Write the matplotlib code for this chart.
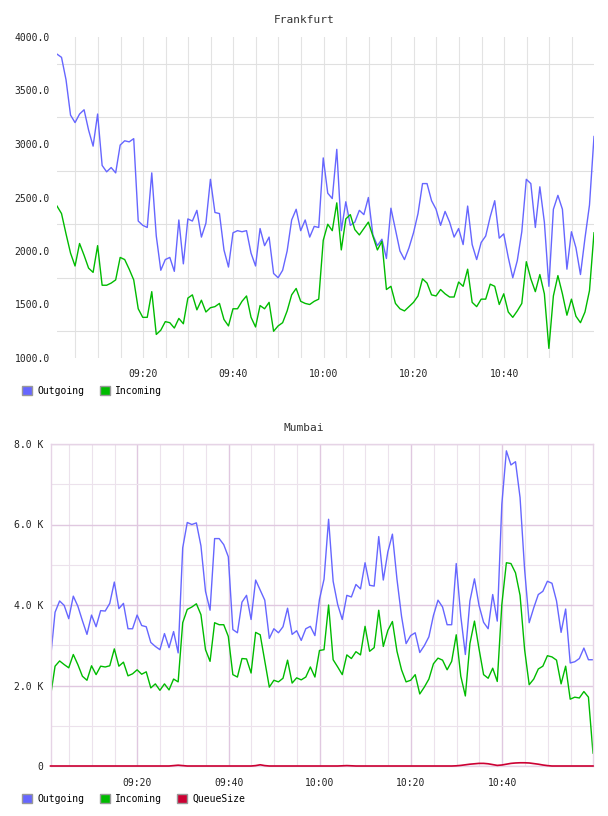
import matplotlib
matplotlib.use('Agg')
import matplotlib.pyplot as plt
import matplotlib.dates as mdates
from matplotlib.patches import Patch
import pandas as pd

# one sample per minute, 09:01 .. 11:00
times = pd.date_range('2024-01-01 09:00:55', periods=120, freq='min')

fra_out = [3840, 3810, 3600, 3270, 3200, 3280, 3320, 3130, 2980, 3280,
           2800, 2740, 2780, 2730, 2990, 3030, 3020, 3050, 2280, 2240,
           2220, 2730, 2140, 1820, 1920, 1940, 1810, 2290, 1880, 2300,
           2280, 2380, 2130, 2260, 2670, 2360, 2350, 2010, 1850, 2170,
           2190, 2180, 2190, 1980, 1860, 2210, 2050, 2130, 1790, 1750,
           1820, 2000, 2290, 2390, 2190, 2290, 2130, 2230, 2220, 2870,
           2540, 2490, 2950, 2190, 2460, 2240, 2270, 2380, 2340, 2500,
           2150, 2050, 2110, 1930, 2400, 2200, 2000, 1920, 2030, 2170,
           2350, 2630, 2630, 2470, 2390, 2240, 2370, 2270, 2130, 2210,
           2060, 2420, 2060, 1920, 2080, 2140, 2320, 2470, 2120, 2160,
           1940, 1750, 1910, 2180, 2670, 2630, 2220, 2600, 2270, 1670,
           2390, 2520, 2390, 1830, 2180, 2030, 1780, 2120, 2430, 3070]

fra_in = [2420, 2350, 2160, 1980, 1860, 2070, 1960, 1840, 1800, 2050,
          1680, 1680, 1700, 1730, 1940, 1920, 1830, 1730, 1460, 1380,
          1380, 1620, 1220, 1260, 1340, 1330, 1280, 1370, 1320, 1560,
          1590, 1450, 1540, 1430, 1470, 1480, 1510, 1360, 1300, 1460,
          1460, 1530, 1580, 1380, 1290, 1490, 1460, 1520, 1250, 1300,
          1330, 1440, 1590, 1650, 1530, 1510, 1500, 1530, 1550, 2100,
          2250, 2190, 2450, 2010, 2300, 2340, 2200, 2150, 2210, 2270,
          2140, 2010, 2090, 1640, 1670, 1510, 1460, 1440, 1480, 1520,
          1580, 1740, 1700, 1590, 1580, 1640, 1600, 1570, 1570, 1710,
          1670, 1830, 1520, 1480, 1550, 1550, 1690, 1670, 1500, 1600,
          1430, 1380, 1440, 1510, 1900, 1740, 1620, 1780, 1600, 1090,
          1580, 1770, 1600, 1400, 1550, 1390, 1330, 1430, 1630, 2170]

mum_out = [2660, 3820, 4100, 3990, 3660, 4220, 3970, 3610, 3270, 3750,
           3460, 3860, 3850, 4040, 4570, 3910, 4040, 3410, 3410, 3750,
           3490, 3460, 3070, 2970, 2890, 3290, 2940, 3340, 2810, 5420,
           6050, 6000, 6040, 5470, 4340, 3870, 5650, 5650, 5500, 5200,
           3390, 3310, 4070, 4240, 3640, 4620, 4370, 4120, 3170, 3410,
           3310, 3460, 3920, 3270, 3360, 3120, 3410, 3470, 3240, 4140,
           4640, 6130, 4590, 4010, 3640, 4240, 4200, 4510, 4400, 5050,
           4490, 4470, 5700, 4620, 5320, 5760, 4640, 3720, 3040, 3240,
           3310, 2820, 2990, 3210, 3740, 4120, 3950, 3510, 3510, 5030,
           3720, 2770, 4100, 4650, 3990, 3570, 3410, 4260, 3600, 6500,
           7830, 7480, 7560, 6670, 4880, 3560, 3930, 4260, 4340, 4590,
           4540, 4100, 3320, 3900, 2560, 2590, 2670, 2930, 2640, 2640]

mum_in = [1730, 2480, 2610, 2520, 2440, 2770, 2520, 2230, 2130, 2490,
          2270, 2480, 2460, 2490, 2910, 2480, 2580, 2240, 2290, 2390,
          2280, 2340, 1940, 2040, 1880, 2040, 1890, 2160, 2090, 3560,
          3890, 3950, 4030, 3760, 2890, 2600, 3560, 3510, 3510, 3220,
          2270, 2210, 2670, 2660, 2310, 3320, 3260, 2610, 1960, 2130,
          2090, 2180, 2630, 2060, 2190, 2140, 2210, 2460, 2210, 2870,
          2890, 4000, 2640, 2460, 2270, 2760, 2670, 2840, 2760, 3470,
          2850, 2940, 3870, 2970, 3370, 3590, 2850, 2390, 2090, 2130,
          2270, 1790, 1960, 2160, 2540, 2680, 2630, 2390, 2600, 3260,
          2230, 1740, 3040, 3600, 2910, 2270, 2180, 2430, 2100, 4010,
          5050, 5030, 4800, 4240, 2890, 2020, 2160, 2410, 2480, 2740,
          2710, 2630, 2040, 2480, 1660, 1710, 1690, 1850, 1710, 320]

mum_queue = [0, 0, 0, 0, 0, 0, 0, 0, 0, 0,
             0, 0, 0, 0, 0, 0, 0, 0, 0, 0,
             0, 0, 0, 0, 0, 0, 0, 10, 20, 10,
             0, 0, 0, 0, 0, 0, 0, 0, 0, 0,
             0, 0, 0, 0, 0, 10, 30, 10, 0, 0,
             0, 0, 0, 0, 0, 0, 0, 0, 0, 0,
             0, 0, 0, 0, 5, 10, 5, 0, 0, 0,
             0, 0, 0, 0, 0, 0, 0, 0, 0, 0,
             0, 0, 0, 0, 0, 0, 0, 0, 0, 5,
             15, 30, 45, 55, 65, 65, 55, 35, 15, 25,
             45, 65, 75, 80, 80, 75, 60, 45, 25, 10,
             0, 0, 0, 0, 0, 0, 0, 0, 0, 0]

fra_yticks = [1000, 1500, 2000, 2500, 3000, 3500, 4000]
fra_ygrid = [1250, 1750, 2250, 2750, 3250, 3750]
mum_yticks = [0, 2000, 4000, 6000, 8000]
mum_ylabels = ['0', '2.0 K', '4.0 K', '6.0 K', '8.0 K']
mum_ygrid = [1000, 3000, 5000, 7000]

BLUE = '#6666ff'
GREEN = '#00bb00'
RED = '#cc0033'
FONT = 'DejaVu Sans Mono'

plt.rcParams['font.family'] = FONT
plt.rcParams['font.size'] = 7

W, H = 608, 816
fig = plt.figure(figsize=(W / 100, H / 100), dpi=100)

# ---- Frankfurt ----
ax1 = fig.add_axes([57 / W, 1 - 358 / H, 537 / W, 321 / H])
ax1.plot(times, fra_out, color=BLUE, lw=1.0)
ax1.plot(times, fra_in, color=GREEN, lw=1.0)
ax1.set_xlim(times[0], times[-1])
ax1.set_ylim(1000, 4000)
ax1.set_yticks(fra_yticks)
ax1.set_yticklabels([f'{v:.1f}' for v in fra_yticks])
ax1.set_yticks(fra_ygrid, minor=True)
ax1.xaxis.set_major_locator(mdates.MinuteLocator(byminute=[0, 20, 40]))
ax1.xaxis.set_major_formatter(mdates.DateFormatter('%H:%M'))
ax1.xaxis.set_minor_locator(mdates.MinuteLocator(byminute=range(0, 60, 5)))
ax1.grid(True, which='both', axis='x', color='#e3e3e3', lw=0.8)
ax1.grid(True, which='minor', axis='y', color='#e0e0e0', lw=0.8)
ax1.tick_params(which='both', length=0, labelsize=7, colors='#222222')
ax1.tick_params(axis='y', pad=5)
ax1.tick_params(axis='x', pad=8)
for s in ax1.spines.values():
    s.set_visible(False)
ax1.set_axisbelow(True)
fig.text(0.5, 1 - 20 / H, 'Frankfurt', ha='center', va='center', fontsize=8, color='#333333')
ax1.legend(handles=[Patch(facecolor=BLUE, edgecolor='#999999', label='Outgoing'),
                    Patch(facecolor=GREEN, edgecolor='#999999', label='Incoming')],
           loc='upper left', bbox_to_anchor=(22 / W, 1 - 386 / H), bbox_transform=fig.transFigure,
           ncol=2, frameon=False, fontsize=7, handlelength=1.05, handleheight=1.0,
           handletextpad=0.5, columnspacing=1.6, borderpad=0, borderaxespad=0)

# ---- Mumbai ----
ax2 = fig.add_axes([50.5 / W, 1 - 766 / H, 542.5 / W, 322 / H])
ax2.plot(times, mum_out, color=BLUE, lw=1.0)
ax2.plot(times, mum_in, color=GREEN, lw=1.0)
ax2.plot(times, mum_queue, color=RED, lw=1.2, clip_on=False, zorder=5)
ax2.set_xlim(times[0], times[-1])
ax2.set_ylim(0, 8000)
ax2.set_yticks(mum_yticks)
ax2.set_yticklabels(mum_ylabels)
ax2.set_yticks(mum_ygrid, minor=True)
ax2.xaxis.set_major_locator(mdates.MinuteLocator(byminute=[0, 20, 40]))
ax2.xaxis.set_major_formatter(mdates.DateFormatter('%H:%M'))
ax2.xaxis.set_minor_locator(mdates.MinuteLocator(byminute=range(0, 60, 5)))
ax2.grid(True, which='major', color='#e0c8e0', lw=1.0)
ax2.grid(True, which='minor', color='#ece2ec', lw=0.8)
ax2.tick_params(which='both', length=0, labelsize=7, colors='#222222')
ax2.tick_params(axis='y', pad=5)
ax2.tick_params(axis='x', pad=9)
for s in ax2.spines.values():
    s.set_color('#e6d4e6')
    s.set_linewidth(1.0)
ax2.set_axisbelow(True)
fig.text(0.5, 1 - 428 / H, 'Mumbai', ha='center', va='center', fontsize=8, color='#333333')
ax2.legend(handles=[Patch(facecolor=BLUE, edgecolor='#999999', label='Outgoing'),
                    Patch(facecolor=GREEN, edgecolor='#999999', label='Incoming'),
                    Patch(facecolor=RED, edgecolor='#999999', label='QueueSize')],
           loc='upper left', bbox_to_anchor=(22 / W, 1 - 794 / H), bbox_transform=fig.transFigure,
           ncol=3, frameon=False, fontsize=7, handlelength=1.05, handleheight=1.0,
           handletextpad=0.5, columnspacing=1.6, borderpad=0, borderaxespad=0)

fig.savefig('out.png', dpi=100)
